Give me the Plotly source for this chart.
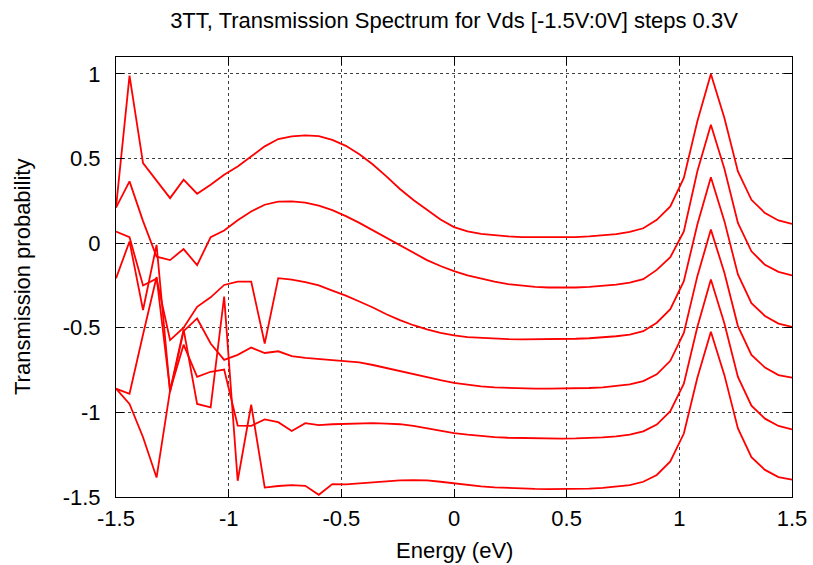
import plotly.graph_objects as go

energy = [-1.5, -1.44, -1.38, -1.32, -1.26, -1.2, -1.14, -1.08, -1.02, -0.96,
          -0.9, -0.84, -0.78, -0.72, -0.66, -0.6, -0.54, -0.48, -0.42, -0.36,
          -0.3, -0.24, -0.18, -0.12, -0.06, 0.0, 0.06, 0.12, 0.18, 0.24,
          0.3, 0.36, 0.42, 0.48, 0.54, 0.6, 0.66, 0.72, 0.78, 0.84,
          0.9, 0.96, 1.02, 1.08, 1.14, 1.2, 1.26, 1.32, 1.38, 1.44, 1.5]

vds_m150 = [0.21, 0.99, 0.473, 0.37, 0.266, 0.375, 0.292, 0.345, 0.404, 0.453,
            0.513, 0.572, 0.615, 0.631, 0.637, 0.632, 0.61, 0.575, 0.525, 0.465,
            0.395, 0.32, 0.255, 0.195, 0.14, 0.095, 0.07, 0.055, 0.046, 0.04,
            0.036, 0.035, 0.034, 0.035, 0.036, 0.04, 0.045, 0.053, 0.066, 0.088,
            0.138, 0.217, 0.385, 0.72, 1.0, 0.74, 0.424, 0.256, 0.178, 0.134, 0.114]

vds_m120 = [0.21, 0.365, 0.13, -0.08, -0.10, -0.035, -0.13, 0.035, 0.075, 0.135,
            0.187, 0.227, 0.245, 0.247, 0.24, 0.222, 0.195, 0.16, 0.12, 0.075,
            0.03, -0.015, -0.06, -0.10, -0.135, -0.165, -0.19, -0.21, -0.228, -0.242,
            -0.252, -0.258, -0.262, -0.263, -0.262, -0.258, -0.253, -0.245, -0.233, -0.213,
            -0.158, -0.083, 0.069, 0.425, 0.70, 0.44, 0.12, -0.048, -0.128, -0.17, -0.19]

vds_m090 = [0.069, 0.035, -0.25, -0.21, -0.573, -0.50, -0.376, -0.32, -0.247, -0.227,
            -0.227, -0.593, -0.207, -0.215, -0.23, -0.25, -0.28, -0.31, -0.345, -0.38,
            -0.42, -0.455, -0.485, -0.51, -0.53, -0.545, -0.555, -0.56, -0.565, -0.567,
            -0.568, -0.568, -0.568, -0.567, -0.565, -0.562, -0.557, -0.55, -0.54, -0.52,
            -0.47, -0.39, -0.225, 0.11, 0.39, 0.13, -0.185, -0.355, -0.43, -0.475, -0.495]

vds_m060 = [-0.208, 0.01, -0.395, -0.01, -0.88, -0.52, -0.445, -0.593, -0.69, -0.66,
            -0.617, -0.649, -0.639, -0.668, -0.678, -0.685, -0.69, -0.695, -0.705, -0.72,
            -0.738, -0.756, -0.775, -0.795, -0.81, -0.825, -0.837, -0.846, -0.852, -0.856,
            -0.858, -0.86, -0.86, -0.86, -0.858, -0.856, -0.852, -0.845, -0.835, -0.815,
            -0.775, -0.695, -0.53, -0.195, 0.08, -0.175, -0.49, -0.66, -0.735, -0.78, -0.795]

vds_m030 = [-0.86, -0.89, -0.54, -0.2, -0.87, -0.6, -0.79, -0.76, -0.747, -1.078,
            -1.08, -1.042, -1.058, -1.11, -1.064, -1.075, -1.07, -1.067, -1.065, -1.064,
            -1.066, -1.07, -1.08, -1.095, -1.11, -1.122, -1.132, -1.14, -1.146, -1.15,
            -1.152, -1.154, -1.155, -1.155, -1.154, -1.152, -1.148, -1.142, -1.132, -1.112,
            -1.072, -0.993, -0.83, -0.495, -0.215, -0.475, -0.79, -0.96, -1.037, -1.08, -1.1]

vds_000 = [-0.86, -0.95, -1.147, -1.385, -0.87, -0.51, -0.95, -0.97, -0.316, -1.404,
           -0.955, -1.444, -1.435, -1.43, -1.434, -1.487, -1.424, -1.425, -1.42, -1.413,
           -1.407, -1.402, -1.4, -1.402, -1.41, -1.42, -1.43, -1.437, -1.443, -1.447,
           -1.45, -1.452, -1.453, -1.453, -1.452, -1.45, -1.446, -1.44, -1.43, -1.41,
           -1.37, -1.29, -1.125, -0.795, -0.523, -0.78, -1.095, -1.265, -1.34, -1.382, -1.398]

series = [vds_m150, vds_m120, vds_m090, vds_m060, vds_m030, vds_000]

x_ticks = [-1.5, -1, -0.5, 0, 0.5, 1, 1.5]
x_tick_labels = ["-1.5", "-1", "-0.5", "0", "0.5", "1", "1.5"]
y_ticks = [-1.5, -1, -0.5, 0, 0.5, 1]
y_tick_labels = ["-1.5", "-1", "-0.5", "0", "0.5", "1"]

title_text = "3TT, Transmission Spectrum for Vds [-1.5V:0V] steps 0.3V"
x_title = "Energy (eV)"
y_title = "Transmission probability"

FONT = "Liberation Sans, Arial, sans-serif"
FS = 22

fig = go.Figure()
for s in series:
    fig.add_trace(go.Scatter(x=energy, y=s, mode="lines",
                             line=dict(color="#ff0000", width=1.8),
                             showlegend=False, hoverinfo="skip"))

axis_common = dict(
    showline=True, linecolor="black", linewidth=1, mirror="ticks",
    ticks="inside", ticklen=8, tickcolor="black", tickwidth=1,
    showgrid=True, gridcolor="rgba(0,0,0,0.75)", griddash="dot", gridwidth=1,
    zeroline=False, automargin=False,
    tickfont=dict(family=FONT, size=FS, color="black"),
)

fig.update_layout(
    width=813, height=565, autosize=False,
    margin=dict(l=116, r=21, t=57, b=68),
    paper_bgcolor="white", plot_bgcolor="white",
    title=dict(text=title_text, x=0.5, xref="paper", y=1 - 20 / 565,
               yref="container", yanchor="middle", xanchor="center",
               font=dict(family=FONT, size=FS, color="black")),
    xaxis=dict(range=[-1.5, 1.5], tickvals=x_ticks, ticktext=x_tick_labels,
               ticklabelstandoff=2, **axis_common),
    yaxis=dict(range=[-1.5, 1.1], tickvals=y_ticks, ticktext=y_tick_labels,
               ticklabelstandoff=10, **axis_common),
    annotations=[
        dict(text=x_title, x=0.5, xref="paper", y=(497 - 550) / 440, yref="paper",
             showarrow=False, xanchor="center", yanchor="middle",
             font=dict(family=FONT, size=FS, color="black")),
        dict(text=y_title, x=(22 - 116) / 676, xref="paper", y=0.5, yref="paper",
             showarrow=False, xanchor="center", yanchor="middle", textangle=-90,
             font=dict(family=FONT, size=FS, color="black")),
    ],
)

fig.write_html("out.html", config={"displayModeBar": False},
               post_script="document.body.style.margin='0';")
